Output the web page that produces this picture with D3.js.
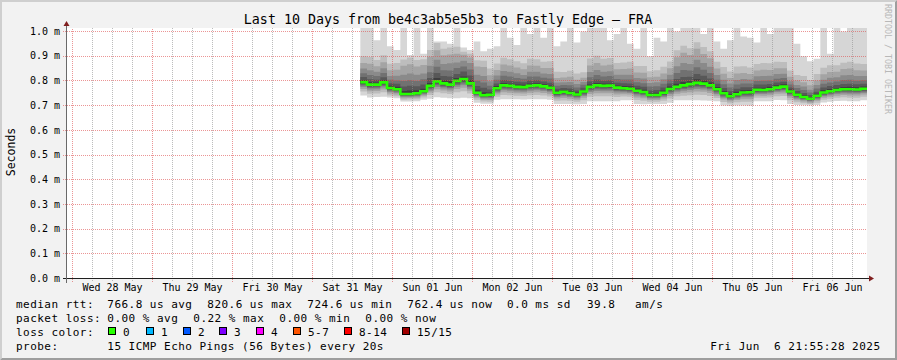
<!DOCTYPE html>
<html><head><meta charset="utf-8">
<script src="https://cdn.jsdelivr.net/npm/d3@7/dist/d3.min.js"></script>
<style>
body{margin:0;background:#f2f2f2;}
svg{display:block;}
text{font-family:"DejaVu Sans Mono",monospace;fill:#000;}
</style></head><body>
<svg id="chart" width="897" height="360"></svg>
<script>
// ---------------- data ----------------
const title = "Last 10 Days from be4c3ab5e5b3 to Fastly Edge \u2013 FRA";
const timeDomain = ["2025-05-27T22:30:00Z", "2025-06-06T22:30:00Z"];
const seriesStart = "2025-05-31T14:30:00Z";
const stepHours = 2;
const yTicks = [0, 0.1, 0.2, 0.3, 0.4, 0.5, 0.6, 0.7, 0.8, 0.9, 1.0];
const dayTicks = ["2025-05-28","2025-05-29","2025-05-30","2025-05-31","2025-06-01",
                  "2025-06-02","2025-06-03","2025-06-04","2025-06-05","2025-06-06"];
const dayLabels = ["Wed 28 May","Thu 29 May","Fri 30 May","Sat 31 May","Sun 01 Jun",
                   "Mon 02 Jun","Tue 03 Jun","Wed 04 Jun","Thu 05 Jun","Fri 06 Jun"];

// median RTT (microseconds), one value every 2 hours
const median = [795,785,785,794,771,766,747,747,750,758,
  780,798,790,785,800,808,790,752,742,744,
  770,782,780,776,775,780,782,778,772,752,
  756,751,745,757,776,782,780,781,773,770,
  768,760,755,743,743,752,767,776,782,787,
  792,789,782,766,750,738,746,753,754,764,
  763,766,773,777,757,744,735,728,740,753,
  758,763,766,766,765,768,766];
// slowest ping (microseconds); values above the graph top are clipped
const pingMax = [1100,1100,965,1100,940,925,1100,905,1100,910,
  1100,960,960,950,1100,935,925,960,920,930,
  940,1100,975,945,1100,990,1100,975,1100,940,
  960,1100,955,1000,1100,1100,1100,965,990,1100,
  950,930,1100,900,975,960,1100,1000,1100,1100,
  1100,990,1100,960,930,965,1100,980,975,955,
  1100,990,1100,1100,1100,950,900,880,890,1100,
  910,1100,1000,1100,1100,1100,1100];
// pings ranked 9..14 : distance above the median (microseconds)
const above9 = [9,10,9,8,9,10, 12,14,12,10,12,14,12,15,12,10,14,12,12, 9,9,10,8,9,9,10,9,8,9, 8,6,8,8,6, 9,10,9,9,8,9,10,9,9,8,9,9,10, 12,14,12,15,12,12, 9,9,8,10,9,9,8,9,10,9,9, 8,6,8,6,8, 9,9,8,9,10,9,9,9];
const above10 = [21,22,20,21,20,22, 30,33,28,27,32,34,30,33,28,30,32,27,30, 21,20,22,21,21,20,22,21,20,21, 16,15,18,16,15, 22,24,21,22,20,21,22,20,21,18,20,21,22, 32,34,30,36,32,28, 22,21,20,22,21,20,21,22,21,21,20, 16,15,16,15,16, 20,21,20,21,22,21,20,21];
const above11 = [36,39,35,38,34,36, 53,56,50,49,55,59,53,57,52,50,56,49,52, 36,35,39,38,36,34,38,36,35,38, 28,27,31,28,27, 39,42,38,39,35,36,38,35,36,34,35,36,39, 56,62,55,63,56,50, 39,36,35,39,36,35,36,38,36,36,35, 28,27,28,25,29, 35,36,35,38,39,36,35,36];
const above12 = [55,58,52,57,49,55, 78,83,75,72,81,88,78,86,75,74,83,73,78, 55,52,58,57,55,49,57,55,52,56, 42,39,45,42,39, 60,62,57,58,52,55,57,52,55,49,52,55,58, 83,91,81,94,83,75, 58,55,52,58,55,52,55,57,55,55,52, 42,39,42,36,43, 52,55,52,57,58,55,52,55];
const above13 = [78,84,74,82,72,79, 114,120,108,106,118,126,114,122,110,98,105,106,114, 79,74,84,82,78,72,82,79,74,80, 60,58,66,60,56, 86,90,82,84,74,78,82,74,78,72,74,78,84, 120,132,118,138,120,110, 84,79,74,84,79,74,78,82,78,78,74, 60,58,60,54,62, 74,78,74,82,84,78,74,78];
const above14 = [105,112,100,110,98,106, 140,148,135,130,145,155,140,150,138,110,120,132,140, 106,100,112,108,104,96,110,106,100,108, 85,80,90,85,78, 115,120,110,112,100,105,110,100,105,96,100,105,112, 148,160,145,165,148,138, 112,106,100,112,106,100,104,110,105,105,100, 85,80,85,76,88, 100,105,100,108,112,105,100,105];
// pings ranked 1..7 : distance below the median (microseconds)
const below1 = [54,52,50,58, 38,36, 30,30,32,34, 52,64,58,55,70,76,60, 40,34, 36, 46,56,54,50,50,54,56,52,48, 46,50,45,40,50, 58,64,62,63,55, 48,46,54,50,37,37,46,55, 54,60,65,70,68,62,48, 50,40,46,53,55,46,45,48,50,55, 50,42,34,28,38, 40,42,44,46,48,47,46,48];
const below2 = [38,37,36,40, 30,28, 23,22,24,25, 37,44,40,38,46,50,41, 28,25, 28, 34,39,38,36,36,38,39,37,35, 32,35,31,29,35, 40,44,42,43,38, 33,32,37,35,27,27,32,38, 38,42,45,48,46,43,35, 35,29,32,37,38,32,31,33,35,38, 35,30,25,21,28, 29,30,31,32,34,33,32,34];
const below3 = [28,27,26,29, 22,21, 17,16,18,18, 27,32,29,28,33,36,30, 20,18, 21, 25,28,28,26,26,28,28,27,26, 23,25,23,21,25, 29,32,30,31,28, 24,23,27,25,20,20,23,28, 28,30,33,35,33,31,26, 25,21,23,27,28,23,23,24,25,28, 25,22,18,16,20, 21,22,23,23,25,24,23,25];
const below4 = [20,20,19,21, 16,15, 12,12,13,13, 20,23,21,20,24,26,22, 15,13, 15, 18,20,20,19,19,20,20,19,18, 17,18,16,15,18, 21,23,22,23,20, 17,17,19,18,14,14,17,20, 20,22,24,25,24,22,19, 18,15,17,19,20,17,16,17,18,20, 18,16,13,11,15, 15,16,16,17,18,17,17,18];
const below5 = [14,14,13,15, 11,10, 8,8,9,9, 14,16,15,14,17,18,15, 10,9, 11, 13,14,14,13,13,14,14,13,13, 12,13,11,10,13, 15,16,15,16,14, 12,12,13,12,10,10,12,14, 14,15,17,18,17,15,13, 13,10,12,13,14,12,11,12,13,14, 12,11,9,8,10, 11,11,11,12,13,12,12,13];
const below6 = [9,9,8,10, 7,6, 5,5,6,6, 9,10,10,9,11,12,10, 6,6, 7, 8,9,9,8,8,9,9,8,8, 8,8,7,6,8, 10,10,10,10,9, 8,7,8,8,6,6,8,9, 9,10,11,12,11,10,8, 8,6,8,8,9,8,7,8,8,9, 8,7,6,5,6, 7,7,7,8,8,8,8,8];
const below7 = [4,4,4,5, 3,3, 2,2,3,3, 4,5,4,4,5,5,4, 3,3, 3, 4,4,4,4,4,4,4,4,4, 3,4,3,3,4, 4,5,4,5,4, 3,3,4,3,3,3,3,4, 4,5,5,5,5,4,4, 3,3,3,4,4,3,3,3,4,4, 3,3,2,2,3, 3,3,3,3,4,3,3,4];

const rttStats = ["766.8 us avg","820.6 us max","724.6 us min","762.4 us now","0.0 ms sd","39.8","am/s"];
const lossStats = ["0.00 % avg","0.22 % max","0.00 % min","0.00 % now"];
const lossLabels = ["0","1","2","3","4","5-7","8-14","15/15"];
const lossColors = ["#26ff00","#00b8ff","#0059ff","#7e00ff","#ff00ff","#ff5500","#ff0000","#a10000"];
const probeText = "15 ICMP Echo Pings (56 Bytes) every 20s";
const stampText = "Fri Jun  6 21:55:28 2025";

// ---------------- layout ----------------
const W = 897, H = 360;
const P = {left: 67, right: 867, top: 28, bottom: 278.5};
const yMax = 1.0142;
const smokeColors = ["#d6d6d6","#bdbdbd","#a4a4a4","#8a8a8a","#717171","#585858","#3e3e3e"];
const lows = [below1, below2, below3, below4, below5, below6, below7];
const highs = [null, above14, above13, above12, above11, above10, above9];

const svg = d3.select("#chart");
const x = d3.scaleUtc().domain(timeDomain.map(d => new Date(d))).range([P.left, P.right]);
const y = d3.scaleLinear().domain([0, yMax]).range([P.bottom, P.top]);
const t0 = new Date(seriesStart);
const tAt = i => d3.utcHour.offset(t0, i * stepHours);
const ms = us => us / 1000;

// background + 3d border
svg.append("rect").attr("width", W).attr("height", H).attr("fill", "#f2f2f2");
svg.append("polygon").attr("points", `0,${H} 2,${H-2} 2,2 ${W-2},2 ${W},0 0,0`).attr("fill", "#cfcfcf");
svg.append("polygon").attr("points", `2,${H-2} ${W-2},${H-2} ${W-2},2 ${W},0 ${W},${H} 0,${H}`).attr("fill", "#9e9e9e");

// canvas
svg.append("rect").attr("x", P.left).attr("y", P.top).attr("width", P.right - P.left)
  .attr("height", 279 - P.top).attr("fill", "#fff");

svg.append("clipPath").attr("id", "clip").append("rect")
  .attr("x", P.left).attr("y", P.top).attr("width", P.right - P.left).attr("height", 279 - P.top);

const plot = svg.append("g").attr("clip-path", "url(#clip)");
const idx = d3.range(median.length);

// smoke bands
smokeColors.forEach((c, k) => {
  const lo = lows[k], hi = highs[k];
  const area = d3.area()
    .x(i => x(tAt(i)))
    .y0(i => y(ms(median[i] - lo[i])))
    .y1(i => y(ms(hi ? median[i] + hi[i] : pingMax[i])))
    .curve(d3.curveStepAfter);
  plot.append("path").datum(idx).attr("d", area).attr("fill", c);
});

// grid
const gridMinor = "rgba(143,143,143,0.6)", gridMajor = "rgba(222,79,79,0.6)";
const minorTicks = x.ticks(d3.utcHour.every(6)).filter(d => d.getUTCHours() !== 0);
const gx1 = svg.append("g").attr("transform", `translate(0,281)`)
  .call(d3.axisBottom(x).tickValues(minorTicks).tickSize(-(281 - P.top)).tickFormat(""));
gx1.select(".domain").remove();
gx1.selectAll("line").attr("stroke", gridMinor).attr("stroke-dasharray", "1,1");
const gx2 = svg.append("g").attr("transform", `translate(0,282)`)
  .call(d3.axisBottom(x).tickValues(dayTicks.map(d => new Date(d + "T00:00:00Z"))).tickSize(-(282 - P.top)).tickFormat(""));
gx2.select(".domain").remove();
gx2.selectAll("line").attr("stroke", gridMajor).attr("stroke-dasharray", "1,1");
const gy = svg.append("g").attr("transform", `translate(63,0)`)
  .call(d3.axisLeft(y).offset(0).tickValues(yTicks).tickSize(-(P.right - 63)).tickFormat(""));
gy.select(".domain").remove();
gy.selectAll("line").attr("stroke", gridMajor).attr("stroke-dasharray", "1,1").attr("shape-rendering", "crispEdges");

// median line
const line = d3.line().x(i => x(tAt(i))).y(i => y(ms(median[i]))).curve(d3.curveStepAfter);
plot.append("path").datum(idx).attr("d", line).attr("fill", "none")
  .attr("stroke", lossColors[0]).attr("stroke-width", 2.6);

// axes lines + arrows
svg.append("line").attr("x1", 63).attr("x2", 871).attr("y1", 278.5).attr("y2", 278.5).attr("stroke", "#1f1f1f");
svg.append("line").attr("x1", 66.5).attr("x2", 66.5).attr("y1", 283).attr("y2", 24).attr("stroke", "#6a6a6a");
svg.append("polygon").attr("points", "869,275.5 869,281.5 874,278.5").attr("fill", "#801f1f");
svg.append("polygon").attr("points", "63.5,26 69.5,26 66.5,21").attr("fill", "#801f1f");

// y labels
const ya = svg.append("g").attr("transform", `translate(67,0)`)
  .call(d3.axisLeft(y).offset(0).tickValues(yTicks).tickSize(0).tickPadding(7)
    .tickFormat(d => d3.format(".1f")(d) + " m"));
ya.select(".domain").remove();
ya.selectAll("text").attr("font-size", 10).attr("font-family", "DejaVu Sans Mono").attr("fill", "#000");

// x labels (at noon of each day)
const xa = svg.append("g").attr("transform", `translate(0,279)`)
  .call(d3.axisBottom(x).tickValues(dayTicks.map(d => new Date(d + "T12:00:00Z"))).tickSize(0).tickPadding(5)
    .tickFormat((d, i) => dayLabels[i]));
xa.select(".domain").remove();
xa.selectAll("text").attr("font-size", 10).attr("font-family", "DejaVu Sans Mono").attr("fill", "#000");

// title, axis title, watermark
svg.append("text").attr("x", 448).attr("y", 24).attr("text-anchor", "middle")
  .attr("font-size", 13.3).text(title);
svg.append("text").attr("transform", "translate(15,152) rotate(-90)").attr("text-anchor", "middle")
  .attr("font-size", 11.5).text("Seconds");
svg.append("text").attr("transform", "translate(885,4) rotate(90)").attr("font-size", 8.3)
  .style("fill", "#b8b8b8").text("RRDTOOL / TOBI OETIKER");

// legend
const leg = svg.append("g").attr("font-size", 11).attr("letter-spacing", 0.47);
const rttX = [107.3, 207.3, 307.3, 407.3, 507, 587, 635];
const lossX = [107.3, 193.3, 279.3, 365.3];
const swX = [108, 146, 183, 219, 256, 293, 344, 402];
leg.append("text").attr("x", 16).attr("y", 308).text("median rtt:");
rttStats.forEach((s, i) => leg.append("text").attr("x", rttX[i]).attr("y", 308).text(s));
leg.append("text").attr("x", 16).attr("y", 322).text("packet loss:");
lossStats.forEach((s, i) => leg.append("text").attr("x", lossX[i]).attr("y", 322).text(s));
leg.append("text").attr("x", 16).attr("y", 336).text("loss color:");
lossLabels.forEach((s, i) => {
  leg.append("rect").attr("x", swX[i] + 0.5).attr("y", 327.5).attr("width", 7).attr("height", 7)
    .attr("fill", lossColors[i]).attr("stroke", "#000").attr("stroke-width", 1);
  leg.append("text").attr("x", swX[i] + 15).attr("y", 336).text(s);
});
leg.append("text").attr("x", 16).attr("y", 349.5).text("probe:");
leg.append("text").attr("x", 107.3).attr("y", 349.5).text(probeText);
leg.append("text").attr("x", 880.5).attr("y", 349.5).attr("text-anchor", "end")
  .style("white-space", "pre").text(stampText);
</script>
</body></html>
